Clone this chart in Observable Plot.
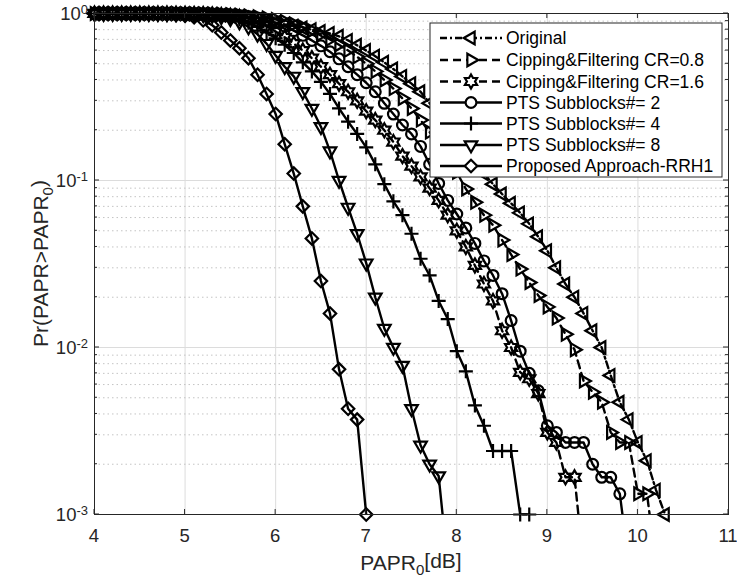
<!DOCTYPE html>
<html><head><meta charset="utf-8">
<script src="https://cdn.jsdelivr.net/npm/d3@7"></script>
<script src="https://cdn.jsdelivr.net/npm/@observablehq/plot@0.6"></script>
<style>
body{margin:0;background:#fff;font-family:"Liberation Sans",Arial,sans-serif}
</style>
</head><body><div id="chart"></div>
<script>
// ---------------- data ----------------
const papr = [4.0,4.1,4.2,4.3,4.4,4.5,4.6,4.7,4.8,4.9,
              5.0,5.1,5.2,5.3,5.4,5.5,5.6,5.7,5.8,5.9,
              6.0,6.1,6.2,6.3,6.4,6.5,6.6,6.7,6.8,6.9,
              7.0,7.1,7.2,7.3,7.4,7.5,7.6,7.7,7.8,7.9,
              8.0,8.1,8.2,8.3,8.4,8.5,8.6,8.7,8.8,8.9,
              9.0,9.1,9.2,9.3,9.4,9.5,9.6,9.7,9.8,9.9,
              10.0,10.1,10.2,10.3];

const original = [1,1,1,1,1,1,1,0.999,0.999,0.998,
  0.996,0.993,0.99,0.985,0.978,0.97,0.955,0.94,0.92,0.90,
  0.88,0.86,0.84,0.82,0.80,0.78,0.76,0.73,0.69,0.645,
  0.60,0.555,0.51,0.465,0.42,0.38,0.34,0.29,0.25,0.215,
  0.18,0.155,0.13,0.11,0.095,0.083,0.073,0.064,0.055,0.046,
  0.038,0.030,0.024,0.020,0.016,0.0126,0.010,0.0068,0.0047,0.0037,
  0.0027,0.0021,0.0014,0.001];

const cf08 = [1,1,1,1,1,1,1,1,0.999,0.999,
  0.998,0.997,0.995,0.993,0.99,0.985,0.978,0.968,0.955,0.94,
  0.92,0.895,0.865,0.83,0.79,0.75,0.70,0.65,0.60,0.55,
  0.50,0.45,0.40,0.355,0.31,0.27,0.23,0.195,0.165,0.14,
  0.112,0.089,0.074,0.062,0.054,0.044,0.036,0.0295,0.0245,0.0205,
  0.0175,0.015,0.012,0.0097,0.0063,0.0054,0.0047,0.0031,0.0027,0.0027,
  0.00133,0.00133,0.0005];

const cf16 = [1,1,1,1,1,1,1,0.999,0.999,0.998,
  0.997,0.995,0.992,0.988,0.98,0.97,0.955,0.93,0.89,0.84,
  0.78,0.72,0.66,0.60,0.54,0.48,0.43,0.38,0.34,0.30,
  0.26,0.23,0.20,0.17,0.14,0.122,0.105,0.09,0.076,0.062,
  0.05,0.04,0.031,0.024,0.019,0.0126,0.010,0.0071,0.0065,0.0053,
  0.0031,0.0027,0.00167,0.00167,0.0005];

const pts2 = [1,1,1,1,1,1,1,1,0.999,0.999,
  0.998,0.997,0.995,0.992,0.988,0.982,0.972,0.958,0.94,0.915,
  0.88,0.84,0.79,0.74,0.69,0.64,0.59,0.535,0.48,0.43,
  0.385,0.34,0.29,0.25,0.215,0.19,0.16,0.125,0.096,0.076,
  0.063,0.052,0.042,0.033,0.027,0.021,0.0145,0.0095,0.007,0.0055,
  0.0034,0.0031,0.0027,0.0027,0.0027,0.002,0.00167,0.00167,0.00133,0.0005];

const pts4 = [1,1,1,1,1,1,1,0.999,0.999,0.998,
  0.996,0.993,0.988,0.98,0.97,0.95,0.92,0.88,0.83,0.77,
  0.71,0.65,0.58,0.51,0.45,0.39,0.33,0.27,0.225,0.19,
  0.158,0.125,0.095,0.075,0.062,0.048,0.034,0.027,0.019,0.0148,
  0.0095,0.0072,0.0045,0.0034,0.0024,0.0024,0.0024,0.001,0.001];

const pts8 = [1,1,1,1,1,1,0.999,0.999,0.998,0.997,
  0.995,0.99,0.983,0.972,0.955,0.93,0.89,0.83,0.75,0.66,
  0.56,0.48,0.42,0.34,0.27,0.21,0.15,0.10,0.069,0.048,
  0.032,0.020,0.013,0.010,0.0078,0.0043,0.0026,0.002,0.0017,0.0005];

const proposed = [1,1,1,1,0.999,0.998,0.997,0.995,0.99,0.98,
  0.97,0.95,0.91,0.85,0.77,0.69,0.62,0.54,0.43,0.33,
  0.25,0.165,0.11,0.07,0.045,0.025,0.016,0.0074,0.0043,0.0037,
  0.001];

const seriesNames = ["Original","Cipping&Filtering CR=0.8","Cipping&Filtering CR=1.6",
  "PTS Subblocks#= 2","PTS Subblocks#= 4","PTS Subblocks#= 8","Proposed Approach-RRH1"];

const xTicks = [4,5,6,7,8,9,10,11];
const yMajor = [0.001,0.01,0.1,1];
const yExp = ["-3","-2","-1","0"];
const yMinor = [0.002,0.003,0.004,0.005,0.006,0.007,0.008,0.009,
                0.02,0.03,0.04,0.05,0.06,0.07,0.08,0.09,
                0.2,0.3,0.4,0.5,0.6,0.7,0.8,0.9];

// ---------------- marker symbols ----------------
function poly(angles, k) {
  return {draw(ctx, size) {
    const R = Math.sqrt(size / Math.PI) * k;
    angles.forEach((a, i) => {
      const t = a * Math.PI / 180, x = R * Math.cos(t), y = R * Math.sin(t);
      i ? ctx.lineTo(x, y) : ctx.moveTo(x, y);
    });
    ctx.closePath();
  }};
}
const triLeft = poly([180, -60, 60], 1.35);
const triRight = poly([0, 120, 240], 1.35);
const triDown = poly([90, 210, 330], 1.35);
const diamond = poly([-90, 0, 90, 180], 1.15);
const hexagram = {draw(ctx, size) {
  const R = Math.sqrt(size / Math.PI) * 1.3, r = R / Math.sqrt(3);
  for (let i = 0; i < 12; i++) {
    const t = (-90 + 30 * i) * Math.PI / 180, rr = i % 2 ? r : R;
    const x = rr * Math.cos(t), y = rr * Math.sin(t);
    i ? ctx.lineTo(x, y) : ctx.moveTo(x, y);
  }
  ctx.closePath();
}};
const plusSym = {draw(ctx, size) {
  const R = Math.sqrt(size / Math.PI) * 1.3;
  ctx.moveTo(-R, 0); ctx.lineTo(R, 0); ctx.moveTo(0, -R); ctx.lineTo(0, R);
}};

const styles = [
  {values: original, symbol: triLeft, dash: "7,3,2,3"},
  {values: cf08, symbol: triRight, dash: "8,5"},
  {values: cf16, symbol: hexagram, dash: "8,5"},
  {values: pts2, symbol: d3.symbolCircle, dash: null},
  {values: pts4, symbol: plusSym, dash: null},
  {values: pts8, symbol: triDown, dash: null},
  {values: proposed, symbol: diamond, dash: null}
];
const R0 = 5.4;

const rows = styles.flatMap((s, k) => s.values.map((v, i) => ({name: seriesNames[k], x: papr[i], y: v})));

const seriesMarks = styles.flatMap((s, k) => {
  const data = rows.filter(d => d.name === seriesNames[k]);
  return [
    Plot.line(data, {x: "x", y: "y", stroke: "#000", strokeWidth: 2.4,
      strokeDasharray: s.dash || undefined, clip: true}),
    Plot.dot(data.filter(d => d.y >= 0.001), {x: "x", y: "y", symbol: s.symbol, r: R0,
      stroke: "#000", fill: "none", strokeWidth: 2.2})
  ];
});

const chart = Plot.plot({
  width: 737, height: 580,
  marginLeft: 94, marginRight: 9, marginTop: 13, marginBottom: 66,
  x: {domain: [4, 11], axis: null},
  y: {type: "log", domain: [0.001, 1], axis: null},
  style: {fontFamily: "'Liberation Sans', Arial, sans-serif", color: "#262626", background: "#fff"},
  marks: [
    Plot.gridX(xTicks, {stroke: "#dcdcdc", strokeOpacity: 1}),
    Plot.gridY(yMinor, {stroke: "#c4c4c4", strokeOpacity: 1, strokeDasharray: "1.5,3"}),
    Plot.gridY(yMajor, {stroke: "#dcdcdc", strokeOpacity: 1}),
    ...seriesMarks,
    Plot.frame({stroke: "#262626", strokeWidth: 1})
  ]
});
document.getElementById("chart").appendChild(chart);

// ---------------- post-processing (labels via the plot's scales) ----------------
const svg = d3.select(chart);
const sx = chart.scale("x"), sy = chart.scale("y");
const X0 = sx.apply(4), X1 = sx.apply(11), Y0 = sy.apply(0.001), Y1 = sy.apply(1);
const FONT = "'Liberation Sans', Arial, sans-serif";

// x tick labels
const xg = svg.append("g").attr("fill", "#262626").style("font-family", FONT).style("font-size", "18.5px");
xTicks.forEach(v => {
  xg.append("text").attr("x", sx.apply(v)).attr("y", Y0 + 28)
    .attr("text-anchor", "middle").text(String(v));
});

// y tick labels 10^n
const yg = svg.append("g").attr("fill", "#262626").style("font-family", FONT).style("font-size", "18.5px");
yMajor.forEach((v, i) => {
  const t = yg.append("text").attr("x", X0 - 6).attr("y", sy.apply(v) + 7)
    .attr("text-anchor", "end");
  t.append("tspan").text("10");
  t.append("tspan").attr("dy", "-0.5em").style("font-size", "13px").text(yExp[i]);
});

// inward ticks
const tg = svg.append("g").attr("stroke", "#262626").attr("stroke-width", 1);
xTicks.forEach(v => {
  const x = sx.apply(v);
  tg.append("line").attr("x1", x).attr("x2", x).attr("y1", Y0).attr("y2", Y0 - 5);
  tg.append("line").attr("x1", x).attr("x2", x).attr("y1", Y1).attr("y2", Y1 + 5);
});
yMajor.forEach(v => {
  const y = sy.apply(v);
  tg.append("line").attr("x1", X0).attr("x2", X0 + 5).attr("y1", y).attr("y2", y);
  tg.append("line").attr("x1", X1).attr("x2", X1 - 5).attr("y1", y).attr("y2", y);
});
yMinor.forEach(v => {
  const y = sy.apply(v);
  tg.append("line").attr("x1", X0).attr("x2", X0 + 3).attr("y1", y).attr("y2", y);
  tg.append("line").attr("x1", X1).attr("x2", X1 - 3).attr("y1", y).attr("y2", y);
});

// axis labels
const xl = svg.append("text").attr("x", (X0 + X1) / 2).attr("y", 570)
  .attr("text-anchor", "middle").style("font-family", FONT).style("font-size", "21px").attr("fill", "#262626");
xl.append("tspan").text("PAPR");
xl.append("tspan").attr("dy", "0.35em").style("font-size", "15px").text("0");
xl.append("tspan").attr("dy", "-0.35em").text("[dB]");

const yl = svg.append("text").attr("transform", `translate(48,${(Y0 + Y1) / 2}) rotate(-90)`)
  .attr("text-anchor", "middle").style("font-family", FONT).style("font-size", "21px").attr("fill", "#262626");
yl.append("tspan").text("Pr(PAPR>PAPR");
yl.append("tspan").attr("dy", "0.35em").style("font-size", "15px").text("0");
yl.append("tspan").attr("dy", "-0.35em").text(")");

// legend
const lg = svg.append("g");
lg.append("rect").attr("x", 430).attr("y", 23).attr("width", 292).attr("height", 154)
  .attr("fill", "#fff").attr("stroke", "#262626").attr("stroke-width", 1);
const rowY = [38, 60, 81.5, 102.5, 123.5, 145, 166];
styles.forEach((s, k) => {
  const y = rowY[k];
  lg.append("line").attr("x1", 440).attr("x2", 502).attr("y1", y).attr("y2", y)
    .attr("stroke", "#000").attr("stroke-width", 2.4).attr("stroke-dasharray", s.dash);
  lg.append("path").attr("d", d3.symbol(s.symbol, Math.PI * R0 * R0)())
    .attr("transform", `translate(471,${y})`).attr("fill", "#fff")
    .attr("stroke", "#000").attr("stroke-width", 2.2);
  lg.append("text").attr("x", 506).attr("y", y).attr("dy", "0.36em")
    .attr("text-anchor", "start").style("font-family", FONT)
    .style("font-size", "17.5px").attr("fill", "#000").text(seriesNames[k]);
});
</script>
</body></html>
